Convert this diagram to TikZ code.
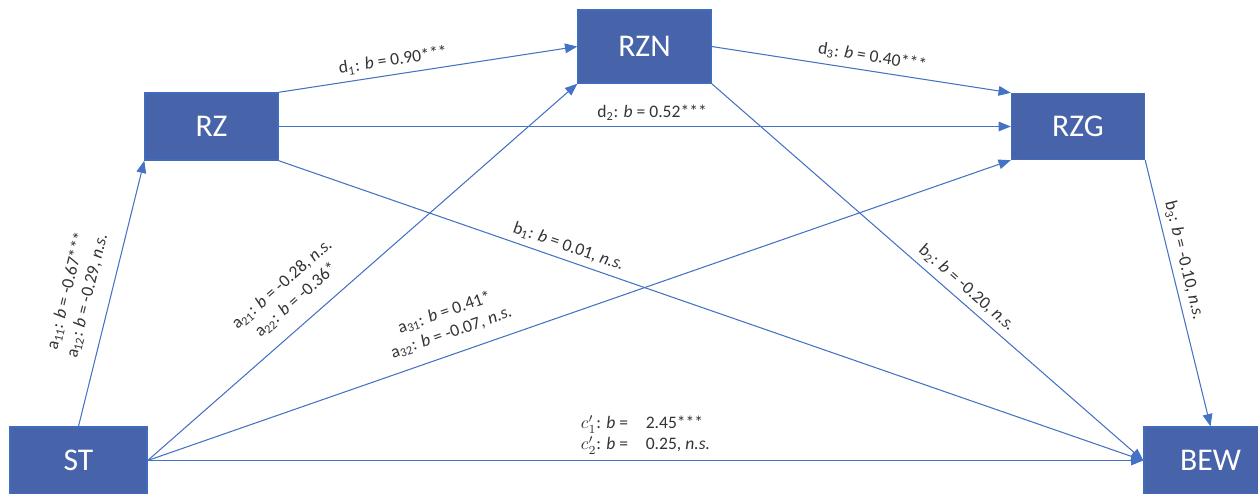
\documentclass[tikz,border=0pt]{standalone}
\usepackage{fontspec}
\setmainfont{Carlito}
\usetikzlibrary{arrows.meta}
\definecolor{boxblue}{RGB}{71,99,170}
\definecolor{boxedge}{RGB}{65,108,190}
\definecolor{linkblue}{RGB}{68,114,196}
\begin{document}
\begin{tikzpicture}[
    box/.style={fill=boxblue, draw=boxedge, line width=0.8pt, text=white, font=\fontsize{18}{20}\selectfont, minimum width=2.66cm, minimum height=1.34cm, inner sep=0pt},
    link/.style={draw=linkblue, line width=0.6pt, -{Triangle[length=7pt,width=5.5pt]}},
    lab/.style={font=\fontsize{10}{12}\selectfont, text=black!80, sloped, above, align=center}
  ]
    \useasboundingbox (0,0) rectangle (25.16,9.86);
    % boxes
    \node[box, minimum width=2.74cm] (st) at (1.57,0.65) {ST};
    \node[box] (rz) at (4.23,7.33) {RZ};
    \node[box, minimum height=1.46cm] (rzn) at (12.89,8.93) {RZN};
    \node[box, minimum height=1.32cm] (rzg) at (21.56,7.33) {RZG};
    \node[box] (bew) at (24.21,0.65) {BEW};
    % paths from ST
    \draw[link] (st.north) -- (rz.south west)
      node[lab, pos=.47, above=5pt] {a\textsubscript{11}: \textit{b} = -0.67***\\a\textsubscript{12}: \textit{b} = -0.29, \textit{n.s.}};
    \draw[link] (st.east) -- (rzn.south west)
      node[lab, pos=.38, above=5pt] {a\textsubscript{21}: \textit{b} = -0.28, \textit{n.s.}\\a\textsubscript{22}: \textit{b} = -0.36*};
    \draw[link] (st.east) -- (rzg.south west)
      node[lab, pos=.36, above=4pt] {a\textsubscript{31}: \textit{b} = 0.41*\\a\textsubscript{32}: \textit{b} = -0.07, \textit{n.s.}};
    \draw[link] (st.east) -- (bew.west)
      node[lab, pos=.5, align=left] {$c'_1$: \textit{b} =\quad 2.45***\\$c'_2$: \textit{b} =\quad 0.25, \textit{n.s.}};
    % paths between mediators
    \draw[link] (rz.north east) -- (rzn.west)
      node[lab, pos=.39] {d\textsubscript{1}: \textit{b} = 0.90***};
    \draw[link] (rz.east) -- (rzg.west)
      node[lab, pos=.51] {d\textsubscript{2}: \textit{b} = 0.52***};
    \draw[link] (rzn.east) -- (rzg.north west)
      node[lab, pos=.53] {d\textsubscript{3}: \textit{b} = 0.40***};
    % paths to BEW
    \draw[link] (rz.south east) -- (bew.west)
      node[lab, pos=.33] {b\textsubscript{1}: \textit{b} = 0.01, \textit{n.s.}};
    \draw[link] (rzn.south east) -- (bew.west)
      node[lab, pos=.57] {b\textsubscript{2}: \textit{b} = -0.20, \textit{n.s.}};
    \draw[link] (rzg.south east) -- (bew.north)
      node[lab, pos=.39] {b\textsubscript{3}: \textit{b} = -0.10, \textit{n.s.}};
\end{tikzpicture}
\end{document}
